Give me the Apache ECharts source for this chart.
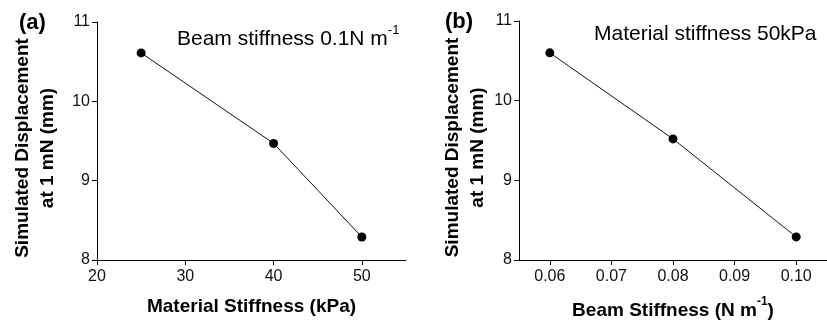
<!DOCTYPE html>
<html>
<head>
<meta charset="utf-8">
<script src="https://cdn.jsdelivr.net/npm/echarts@6/dist/echarts.min.js"></script>
<style>
html,body{margin:0;padding:0;background:#fff;}
#c{width:827px;height:325px;}
</style>
</head>
<body>
<div id="c"></div>
<script>
// ---- data ----
const materialStiffness = [25, 40, 50];          // kPa
const displacementA = [10.61, 9.47, 8.29];       // mm
const beamStiffness = [0.06, 0.08, 0.10];        // N m^-1
const displacementB = [10.60, 9.52, 8.29];       // mm
const xTicksA = [20, 30, 40, 50];
const xTicksB = [0.06, 0.07, 0.08, 0.09, 0.10];
const yTicks = [8, 9, 10, 11];

const FONT = '"Liberation Sans", Arial, sans-serif';
const chart = echarts.init(document.getElementById('c'));

const axisLine = {show: true, lineStyle: {color: '#000', width: 1}};
const axisTick = {show: true, inside: false, length: 5, lineStyle: {color: '#000', width: 1}};
const tickLabel = {color: '#111', fontSize: 16, fontFamily: FONT};
const nameStyle = {color: '#000', fontSize: 19, fontWeight: 'bold', fontFamily: FONT};

function yAxis(gridIndex, gap) {
  return {
    type: 'value', gridIndex: gridIndex, min: 8, max: 11, interval: 1,
    axisLine: axisLine,
    axisTick: Object.assign({customValues: yTicks}, axisTick),
    axisLabel: Object.assign({margin: 7, customValues: yTicks}, tickLabel),
    splitLine: {show: false},
    name: 'Simulated Displacement\nat 1 mN (mm)',
    nameLocation: 'middle', nameRotate: 90, nameGap: gap,
    nameTextStyle: Object.assign({lineHeight: 25, padding: [0, 14, 0, 0]}, nameStyle)
  };
}

const option = {
  animation: false,
  backgroundColor: '#fff',
  grid: [
    {left: 97, top: 22, right: 421, bottom: 65},
    {left: 519, top: 21, right: 0, bottom: 65}
  ],
  xAxis: [
    {
      type: 'value', gridIndex: 0, min: 20, max: 55, interval: 10,
      axisLine: axisLine,
      axisTick: Object.assign({customValues: xTicksA}, axisTick),
      axisLabel: Object.assign({margin: 9, customValues: xTicksA}, tickLabel),
      splitLine: {show: false},
      name: 'Material Stiffness (kPa)',
      nameLocation: 'middle', nameGap: 37,
      nameTextStyle: nameStyle
    },
    {
      type: 'value', gridIndex: 1, min: 0.055, max: 0.105,
      axisLine: axisLine,
      axisTick: Object.assign({customValues: xTicksB}, axisTick),
      axisLabel: Object.assign({margin: 9, customValues: xTicksB,
        formatter: function (v) { return v.toFixed(2); }}, tickLabel),
      splitLine: {show: false},
      name: '{n|Beam Stiffness (N m}{s|-1}{n|)}',
      nameLocation: 'middle', nameGap: 36,
      nameTextStyle: Object.assign({}, nameStyle, {
        rich: {
          n: {fontSize: 19, fontWeight: 'bold', fontFamily: FONT, color: '#000', lineHeight: 24, verticalAlign: 'bottom'},
          s: {fontSize: 12, fontWeight: 'bold', fontFamily: FONT, color: '#000', lineHeight: 24, verticalAlign: 'top'}
        }
      })
    }
  ],
  yAxis: [yAxis(0, 37), yAxis(1, 29)],
  series: [
    {
      type: 'line', xAxisIndex: 0, yAxisIndex: 0,
      data: materialStiffness.map((x, i) => [x, displacementA[i]]),
      symbol: 'circle', symbolSize: 9,
      lineStyle: {color: '#111', width: 1},
      itemStyle: {color: '#000'}
    },
    {
      type: 'line', xAxisIndex: 1, yAxisIndex: 1,
      data: beamStiffness.map((x, i) => [x, displacementB[i]]),
      symbol: 'circle', symbolSize: 9,
      lineStyle: {color: '#111', width: 1},
      itemStyle: {color: '#000'}
    }
  ],
  graphic: [
    {type: 'text', left: 19, top: 12, style: {text: '(a)', font: 'bold 22px ' + FONT, fill: '#000'}},
    {type: 'text', left: 445, top: 11, style: {text: '(b)', font: 'bold 22px ' + FONT, fill: '#000'}},
    {type: 'text', left: 177, top: 24, style: {
      text: '{n|Beam stiffness 0.1N m}{s|-1}',
      rich: {
        n: {fontSize: 21, fontFamily: FONT, fill: '#000', lineHeight: 26, verticalAlign: 'bottom'},
        s: {fontSize: 13, fontFamily: FONT, fill: '#000', lineHeight: 26, verticalAlign: 'top'}
      }
    }},
    {type: 'text', left: 594, top: 24, style: {
      text: 'Material stiffness 50kPa', font: '21px ' + FONT, fill: '#000'
    }}
  ]
};
chart.setOption(option);
</script>
</body>
</html>
